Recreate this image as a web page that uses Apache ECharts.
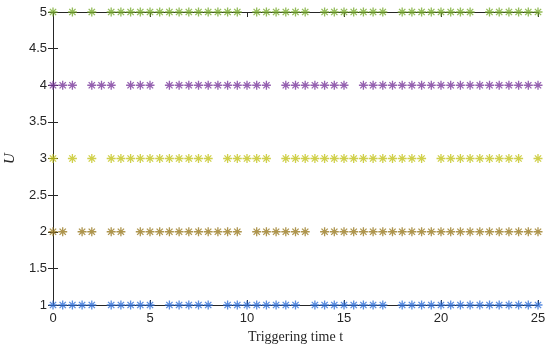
<!DOCTYPE html>
<html>
<head>
<meta charset="utf-8">
<script src="https://cdn.jsdelivr.net/npm/echarts@6/dist/echarts.min.js"></script>
<style>html,body{margin:0;padding:0;background:#fff;}#c{width:550px;height:345px;}</style>
</head>
<body>
<div id="c"></div>
<script>
// Triggering instants for each agent (U level)
var levels = [1, 2, 3, 4, 5];
var t1 = [0,0.5,1,1.5,2,3,3.5,4,4.5,5,6,6.5,7,7.5,8,9,9.5,10,10.5,11,11.5,12,12.5,13.5,14,14.5,15,15.5,16,16.5,17,18,18.5,19,19.5,20,20.5,21,21.5,22,22.5,23,23.5,24,24.5,25];
var t2 = [0,0.5,1.5,2,3,3.5,4.5,5,5.5,6,6.5,7,7.5,8,8.5,9,9.5,10.5,11,11.5,12,12.5,13,14,14.5,15,15.5,16,16.5,17,17.5,18,18.5,19,19.5,20,20.5,21,21.5,22,22.5,23,23.5,24,24.5,25];
var t3 = [0,1,2,3,3.5,4,4.5,5,5.5,6,6.5,7,7.5,8,9,9.5,10,10.5,11,12,12.5,13,13.5,14,14.5,15,15.5,16,16.5,17,17.5,18,18.5,19,20,20.5,21,21.5,22,22.5,23,23.5,24,25];
var t4 = [0,0.5,1,2,2.5,3,4,4.5,5,6,6.5,7,7.5,8,8.5,9,9.5,10,10.5,11,12,12.5,13,13.5,14,14.5,15,16,16.5,17,17.5,18,18.5,19,19.5,20,20.5,21,21.5,22,22.5,23,23.5,24,24.5,25];
var t5 = [0,1,2,3,3.5,4,4.5,5,5.5,6,6.5,7,7.5,8,8.5,9,9.5,10.5,11,11.5,12,12.5,13,14,14.5,15,15.5,16,16.5,17,18,18.5,19,19.5,20,20.5,21,21.5,22.5,23,23.5,24,24.5,25];
var times = [t1, t2, t3, t4, t5];
var colors = ['#2f6fd8', '#9a7a22', '#c4c41e', '#7b3a9c', '#78ab2e'];
var xTicks = [0, 5, 10, 15, 20, 25];
var yTicks = [1, 1.5, 2, 2.5, 3, 3.5, 4, 4.5, 5];

var star = 'path://M0,-10L0,10M-10,0L10,0M-7,-7L7,7M-7,7L7,-7';
var axisColor = '#262626';

var series = levels.map(function (lv, i) {
  return {
    type: 'scatter',
    name: 'U' + lv,
    symbol: star,
    symbolSize: 9,
    clip: false,
    z: 5,
    itemStyle: { color: 'none', borderColor: colors[i], borderWidth: 1.3 },
    data: times[i].map(function (t) { return [t, lv]; })
  };
});

var chart = echarts.init(document.getElementById('c'), null, { renderer: 'canvas' });
chart.setOption({
  animation: false,
  grid: { left: 53, right: 12, top: 12, bottom: 40, show: false, containLabel: false, outerBoundsMode: 'none' },
  xAxis: [{
    type: 'value', min: xTicks[0], max: xTicks[xTicks.length - 1], interval: 5,
    name: 'Triggering time t', nameLocation: 'middle', nameGap: 24,
    nameTextStyle: { fontFamily: 'Liberation Serif', fontSize: 14, color: axisColor },
    axisLine: { show: true, lineStyle: { color: axisColor, width: 1 } },
    axisTick: { show: true, inside: true, length: 5, lineStyle: { color: axisColor } },
    axisLabel: { fontFamily: 'Liberation Sans', fontSize: 13, color: axisColor, margin: 7 },
    splitLine: { show: false }
  }, {
    type: 'value', position: 'top', min: 0, max: 25, interval: 5,
    axisLine: { show: true, lineStyle: { color: axisColor, width: 1 } },
    axisTick: { show: true, inside: true, length: 5, lineStyle: { color: axisColor } },
    axisLabel: { show: false }, splitLine: { show: false }
  }],
  yAxis: [{
    type: 'value', min: yTicks[0], max: yTicks[yTicks.length - 1], interval: 0.5,
    name: 'U', nameLocation: 'middle', nameGap: 32, nameRotate: 90,
    nameTextStyle: { fontFamily: 'Liberation Serif', fontStyle: 'italic', fontSize: 15, color: axisColor },
    axisLine: { show: true, lineStyle: { color: axisColor, width: 1 } },
    axisTick: { show: true, inside: true, length: 5, lineStyle: { color: axisColor } },
    axisLabel: { fontFamily: 'Liberation Sans', fontSize: 13, color: axisColor, margin: 6 },
    splitLine: { show: false }
  }, {
    type: 'value', position: 'right', min: 1, max: 5, interval: 0.5,
    axisLine: { show: true, lineStyle: { color: axisColor, width: 1 } },
    axisTick: { show: true, inside: true, length: 5, lineStyle: { color: axisColor } },
    axisLabel: { show: false }, splitLine: { show: false }
  }],
  series: series
});
</script>
</body>
</html>
